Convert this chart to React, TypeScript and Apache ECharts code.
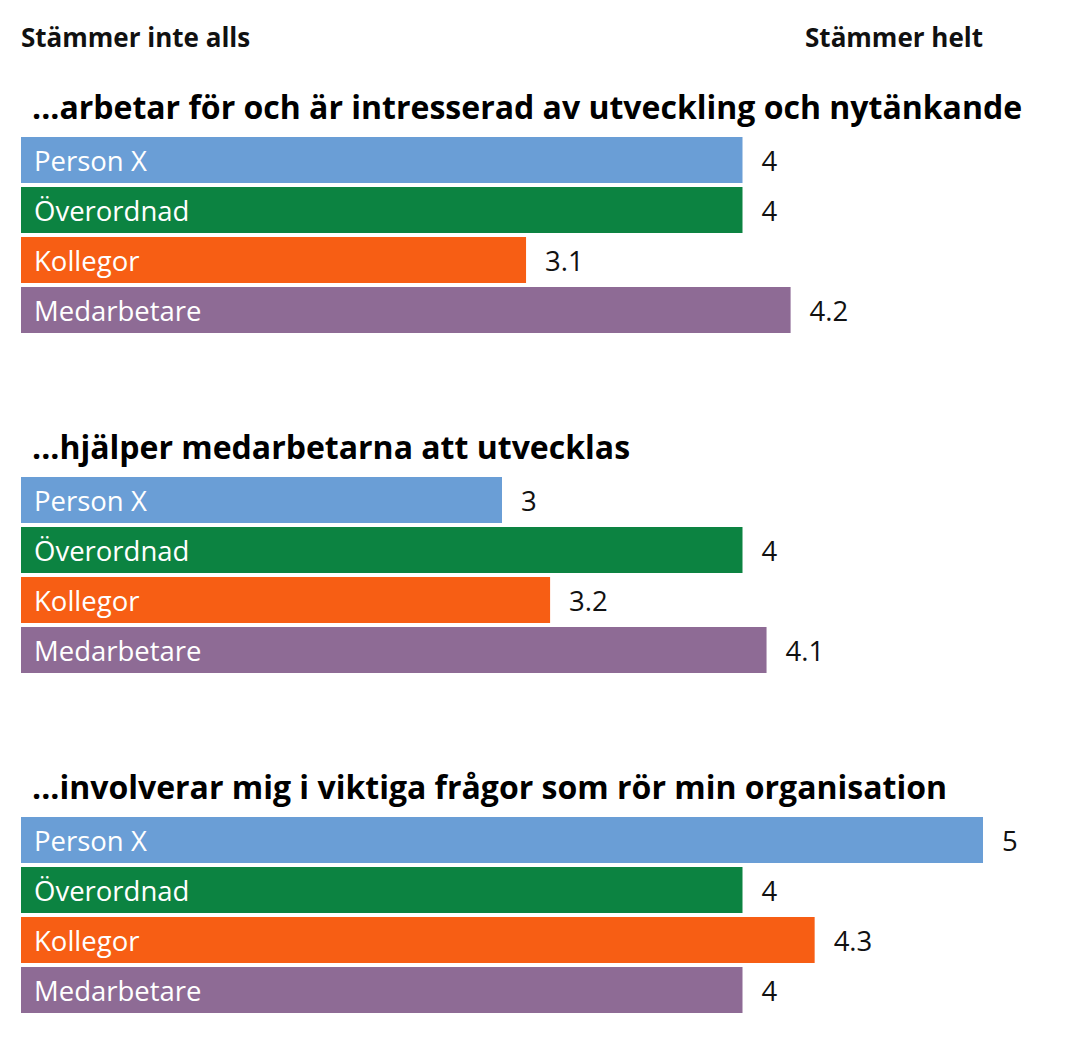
import React, { useEffect, useRef } from "react";
import * as echarts from "echarts";

const categories = ["Person X", "Överordnad", "Kollegor", "Medarbetare"];
const colors = ["#6a9ed6", "#0c8341", "#f75e14", "#8e6b95"];
const questions = [
  "...arbetar för och är intresserad av utveckling och nytänkande",
  "...hjälper medarbetarna att utvecklas",
  "...involverar mig i viktiga frågor som rör min organisation",
];
const values1 = [4, 4, 3.1, 4.2];
const values2 = [3, 4, 3.2, 4.1];
const values3 = [5, 4, 4.3, 4];
const groupValues = [values1, values2, values3];
const scaleMin = 1;
const scaleMax = 5;
const leftLabel = "Stämmer inte alls";
const rightLabel = "Stämmer helt";

const FONT = "'Open Sans', sans-serif";

export default function App() {
  const ref = useRef<HTMLDivElement>(null);
  useEffect(() => {
    if (!ref.current) return;
    const chart = echarts.init(ref.current, null, { renderer: "svg" });
    const gridTops = [135, 475, 815];
    const titleYs = [106, 446, 786];
    const grids = gridTops.map((t) => ({ left: 21, width: 962, top: t, height: 200 }));
    const xAxes = gridTops.map((_, i) => ({
      type: "value",
      gridIndex: i,
      min: scaleMin,
      max: scaleMax,
      show: false,
    }));
    const yAxes = gridTops.map((_, i) => ({
      type: "category",
      gridIndex: i,
      data: categories,
      inverse: true,
      z: 5,
      axisLine: { show: false },
      axisTick: { show: false },
      splitLine: { show: false },
      axisLabel: {
        inside: true,
        margin: 13,
        color: "#ffffff",
        fontSize: 27.5,
        fontFamily: FONT,
      },
    }));
    const series = groupValues.map((vals, i) => ({
      type: "bar",
      xAxisIndex: i,
      yAxisIndex: i,
      barWidth: 46,
      data: vals.map((v, j) => ({ value: v, itemStyle: { color: colors[j] } })),
      label: {
        show: true,
        position: "right",
        distance: 19,
        color: "#111111",
        fontSize: 27.5,
        fontFamily: FONT,
      },
    }));
    const graphic: any[] = [
      {
        type: "text",
        x: 21,
        y: 37,
        style: {
          text: leftLabel,
          font: `bold 26px ${FONT}`,
          fill: "#111111",
          verticalAlign: "middle",
          align: "left",
        },
      },
      {
        type: "text",
        x: 983,
        y: 37,
        style: {
          text: rightLabel,
          font: `bold 26px ${FONT}`,
          fill: "#111111",
          verticalAlign: "middle",
          align: "right",
        },
      },
      ...questions.map((q, i) => ({
        type: "text",
        x: 32,
        y: titleYs[i],
        style: {
          text: q,
          font: `bold 32px ${FONT}`,
          fill: "#000000",
          verticalAlign: "middle",
          align: "left",
        },
      })),
    ];
    chart.setOption({
      animation: false,
      backgroundColor: "#ffffff",
      grid: grids,
      xAxis: xAxes,
      yAxis: yAxes,
      series,
      graphic,
    } as any);
    return () => chart.dispose();
  }, []);
  return (
    <div
      ref={ref}
      style={{ position: "absolute", left: 0, top: 0, width: 1066, height: 1038 }}
    />
  );
}
